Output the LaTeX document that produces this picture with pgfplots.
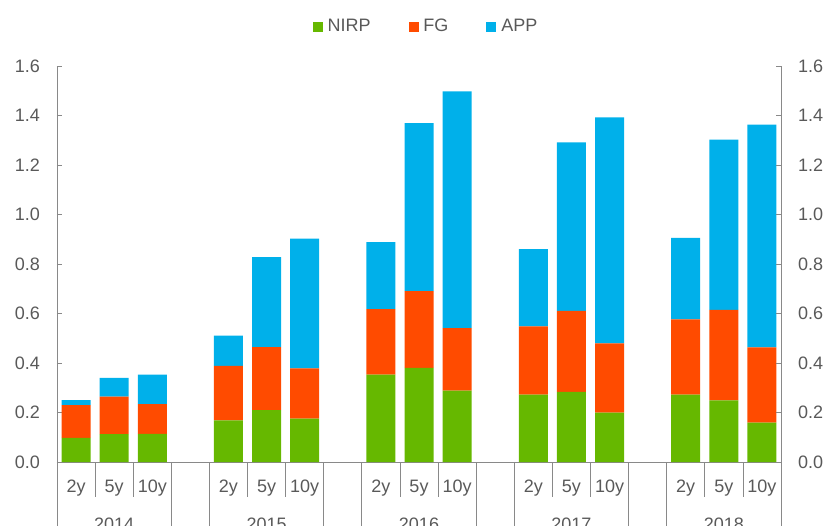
\documentclass[border=0pt]{standalone}
\usepackage{fontspec}
\setmainfont{Liberation Sans}
\usepackage{pgfplots}
\usepackage{pgfplotstable}
\pgfplotsset{compat=1.18}
\definecolor{cNIRP}{HTML}{66B800}
\definecolor{cFG}{HTML}{FF4B00}
\definecolor{cAPP}{HTML}{00B0EA}
\definecolor{axgray}{HTML}{898989}
\definecolor{txtgray}{HTML}{595959}

\pgfplotstableread{
x  nirp  fg    app
0  0.097 0.133 0.020
1  0.113 0.151 0.076
2  0.114 0.120 0.119
4  0.168 0.220 0.123
5  0.210 0.254 0.364
6  0.175 0.203 0.525
8  0.353 0.265 0.270
9  0.380 0.310 0.679
10 0.288 0.253 0.956
12 0.272 0.276 0.312
13 0.283 0.328 0.680
14 0.199 0.280 0.913
16 0.272 0.304 0.330
17 0.249 0.366 0.688
18 0.159 0.304 0.900
}\data

\pgfplotsset{
  common/.style={
    scale only axis, width=724bp, height=396bp,
    xmin=-0.5, xmax=18.5, ymin=0, ymax=1.6,
    ytick={0,0.2,0.4,0.6,0.8,1.0,1.2,1.4,1.6},
    axis line style={axgray, line width=0.8bp},
    ytick style={axgray, line width=0.8bp},
    tick align=inside, major tick length=5bp,
    tick label style={text=txtgray},
    yticklabel style={/pgf/number format/fixed, /pgf/number format/fixed zerofill, /pgf/number format/precision=1, /pgf/number format/assume math mode=true},
  }
}

\begin{document}
\fontsize{18bp}{21bp}\selectfont
\begin{tikzpicture}
\begin{axis}[common,
  axis x line*=bottom, axis y line*=left,
  xtick=\empty,
  yticklabel style={anchor=east, xshift=-11bp},
  clip=false,
  ybar stacked, bar width=29bp,
  legend columns=3,
  legend style={draw=none, fill=none, text=txtgray, at={(0.5,1)}, anchor=center, yshift=39bp, xshift=7bp,
    /tikz/every odd column/.append style={column sep=3bp},
    /tikz/every even column/.append style={column sep=36bp}},
  legend image code/.code={\fill[#1] (0bp,-5bp) rectangle (10bp,5bp);},
]
\addplot[fill=cNIRP, draw=none] table[x=x, y=nirp]{\data};
\addplot[fill=cFG, draw=none] table[x=x, y=fg]{\data};
\addplot[fill=cAPP, draw=none] table[x=x, y=app]{\data};
\legend{NIRP,FG,APP}
\pgfplotsinvokeforeach{0.5,1.5,4.5,5.5,8.5,9.5,12.5,13.5,16.5,17.5}{
  \draw[axgray, line width=0.8bp] (axis cs:#1,0) -- ++(0bp,-35bp);
}
\pgfplotsinvokeforeach{-0.5,2.5,3.5,6.5,7.5,10.5,11.5,14.5,15.5,18.5}{
  \draw[axgray, line width=0.8bp] (axis cs:#1,0) -- ++(0bp,-75bp);
}
\node[anchor=base, text=txtgray, yshift=-30bp] at (axis cs:0,0) {2y};
\node[anchor=base, text=txtgray, yshift=-30bp] at (axis cs:1,0) {5y};
\node[anchor=base, text=txtgray, yshift=-30bp] at (axis cs:2,0) {10y};
\node[anchor=base, text=txtgray, yshift=-30bp] at (axis cs:4,0) {2y};
\node[anchor=base, text=txtgray, yshift=-30bp] at (axis cs:5,0) {5y};
\node[anchor=base, text=txtgray, yshift=-30bp] at (axis cs:6,0) {10y};
\node[anchor=base, text=txtgray, yshift=-30bp] at (axis cs:8,0) {2y};
\node[anchor=base, text=txtgray, yshift=-30bp] at (axis cs:9,0) {5y};
\node[anchor=base, text=txtgray, yshift=-30bp] at (axis cs:10,0) {10y};
\node[anchor=base, text=txtgray, yshift=-30bp] at (axis cs:12,0) {2y};
\node[anchor=base, text=txtgray, yshift=-30bp] at (axis cs:13,0) {5y};
\node[anchor=base, text=txtgray, yshift=-30bp] at (axis cs:14,0) {10y};
\node[anchor=base, text=txtgray, yshift=-30bp] at (axis cs:16,0) {2y};
\node[anchor=base, text=txtgray, yshift=-30bp] at (axis cs:17,0) {5y};
\node[anchor=base, text=txtgray, yshift=-30bp] at (axis cs:18,0) {10y};
\node[anchor=base, text=txtgray, yshift=-68bp] at (axis cs:1,0) {2014};
\node[anchor=base, text=txtgray, yshift=-68bp] at (axis cs:5,0) {2015};
\node[anchor=base, text=txtgray, yshift=-68bp] at (axis cs:9,0) {2016};
\node[anchor=base, text=txtgray, yshift=-68bp] at (axis cs:13,0) {2017};
\node[anchor=base, text=txtgray, yshift=-68bp] at (axis cs:17,0) {2018};
\end{axis}
\begin{axis}[common,
  axis x line=none, axis y line*=right,
  yticklabel style={anchor=west, xshift=11bp},
]
\addplot[draw=none, forget plot] coordinates {(0,0)};
\end{axis}
\pgfresetboundingbox
\path[use as bounding box] (-57bp,-64bp) rectangle (770bp,462bp);
\end{tikzpicture}
\end{document}
